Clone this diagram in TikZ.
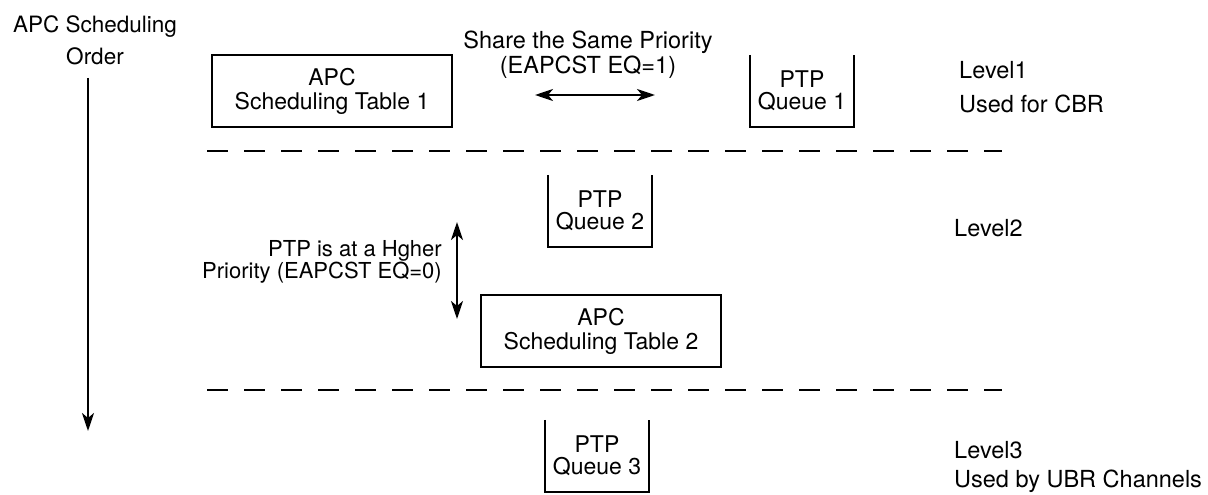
\documentclass[tikz,border=0pt]{standalone}
\usepackage{fontspec}
\setmainfont{TeX Gyre Heros}
\usetikzlibrary{arrows.meta}
\begin{document}
\begin{tikzpicture}[x=1pt,y=-1pt,
  txt/.style={font=\fontsize{23}{24}\selectfont, inner sep=0pt, align=center},
  tablebox/.style={draw, line width=2.4pt, minimum width=240pt, minimum height=72pt, inner sep=0pt, font=\fontsize{23}{24}\selectfont, align=center},
  qbox/.style={minimum width=104pt, minimum height=72pt, inner sep=0pt, font=\fontsize{23}{22}\selectfont, align=center},
  qline/.style={line width=2.4pt},
  sep/.style={line width=2.4pt, dash pattern=on 21pt off 16pt},
  arr/.style={line width=2.4pt, -{Stealth[length=18pt,width=12pt,inset=5pt]}},
  darr/.style={line width=2.4pt, {Stealth[length=18pt,width=12pt,inset=5pt]}-{Stealth[length=18pt,width=12pt,inset=5pt]}}
]
\useasboundingbox (0,0) rectangle (1208,495);

% title and order arrow
\node[txt, font=\fontsize{22.5}{32}\selectfont] (title) at (95,40) {APC Scheduling\\Order};
\coordinate (ordA) at (88,78);
\coordinate (ordB) at (88,431);
\draw[arr] (ordA) -- (ordB);

% Level 1
\node[tablebox] (t1) at (332,91) {APC\\ Scheduling Table 1};
\node[txt, font=\fontsize{23.5}{25}\selectfont] (share) at (588,55) {Share the Same Priority\\(EAPCST EQ=1)};
\coordinate (s1) at (535,95);
\coordinate (s2) at (655,95);
\draw[darr] (s1) -- (s2);
\node[qbox] (q1) at (802,91) {PTP\\Queue 1};
\draw[qline] (q1.north west) -- (q1.south west) -- (q1.south east) -- (q1.north east);
\node[txt, font=\fontsize{23.5}{24}\selectfont, anchor=base west] (lv1) at (959,79) {Level1};
\node[txt, font=\fontsize{23.5}{24}\selectfont, anchor=base west] (cbr) at (959,113) {Used for CBR};

\coordinate (d1a) at (207,151);
\coordinate (d1b) at (1002,151);
\draw[sep] (d1a) -- (d1b);

% Level 2
\node[qbox] (q2) at (600,211) {PTP\\Queue 2};
\draw[qline] (q2.north west) -- (q2.south west) -- (q2.south east) -- (q2.north east);
\coordinate (h1) at (457,222);
\coordinate (h2) at (457,319);
\draw[darr] (h1) -- (h2);
\node[txt, align=right, font=\fontsize{22}{21}\selectfont, anchor=east] (hp) at (442,262) {PTP is at a Hgher\\Priority (EAPCST EQ=0)};
\node[tablebox] (t2) at (601,331) {APC\\ Scheduling Table 2};
\node[txt, font=\fontsize{23.5}{24}\selectfont, anchor=base west] (lv2) at (954,236) {Level2};

\coordinate (d2a) at (207,390);
\coordinate (d2b) at (1002,390);
\draw[sep] (d2a) -- (d2b);

% Level 3
\node[qbox] (q3) at (597,456) {PTP\\Queue 3};
\draw[qline] (q3.north west) -- (q3.south west) -- (q3.south east) -- (q3.north east);
\node[txt, font=\fontsize{23.5}{24}\selectfont, anchor=base west] (lv3) at (954,458) {Level3};
\node[txt, font=\fontsize{23.5}{24}\selectfont, anchor=base west] (ubr) at (954,487) {Used by UBR Channels};
\end{tikzpicture}
\end{document}
